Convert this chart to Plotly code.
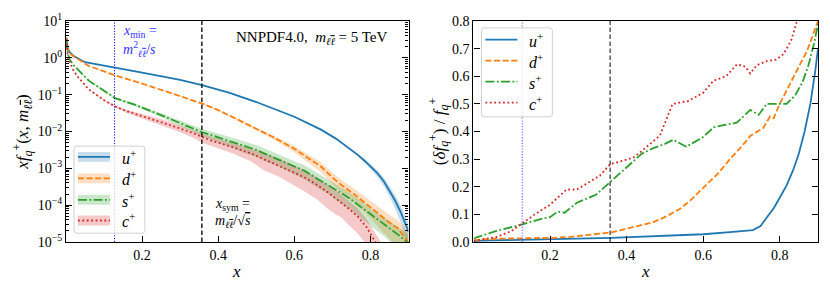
import numpy as np
import plotly.graph_objects as go

# ---------------- data ----------------
X_MIN = 0.1276   # m^2/s
X_SYM = 0.357    # m/sqrt(s)

u_x = [0.001, 0.005, 0.01, 0.02, 0.05, 0.1, 0.2, 0.3, 0.36, 0.43, 0.5, 0.6, 0.67, 0.71, 0.73, 0.75,
       0.765, 0.785, 0.8, 0.818, 0.835, 0.85, 0.865, 0.88, 0.893, 0.9]
u_logf = [0.55, 0.25, 0.15, 0.05, -0.12, -0.21, -0.40, -0.60, -0.75, -0.95, -1.2, -1.6, -1.95, -2.2, -2.35, -2.5,
          -2.62, -2.8, -2.95, -3.13, -3.35, -3.6, -3.88, -4.2, -4.55, -4.72]
u_rel = [0.003, 0.004, 0.004, 0.005, 0.006, 0.007, 0.011, 0.013, 0.015, 0.018, 0.022, 0.028, 0.036, 0.04, 0.043, 0.058,
         0.085, 0.124, 0.16, 0.205, 0.26, 0.32, 0.40, 0.50, 0.62, 0.70]

d_x = [0.001, 0.005, 0.01, 0.02, 0.06, 0.13, 0.2, 0.25, 0.3, 0.36, 0.4, 0.44, 0.47, 0.5, 0.54, 0.57, 0.6, 0.64,
       0.67, 0.7, 0.723, 0.757, 0.775, 0.784, 0.8, 0.827, 0.853, 0.871, 0.9]
d_logf = [0.55, 0.22, 0.12, 0.04, -0.22, -0.48, -0.70, -0.88, -1.04, -1.25, -1.42, -1.62, -1.77, -1.92, -2.13, -2.3,
          -2.47, -2.75, -2.95, -3.25, -3.45, -3.7, -3.85, -3.92, -4.05, -4.3, -4.5, -4.62, -5.0]
d_rel = [0.006, 0.007, 0.008, 0.009, 0.012, 0.013, 0.015, 0.018, 0.025, 0.035, 0.048, 0.062, 0.072, 0.09, 0.12,
         0.155, 0.195, 0.25, 0.30, 0.345, 0.384, 0.413, 0.455, 0.448, 0.50, 0.575, 0.643, 0.69, 0.80]

s_x = [0.001, 0.005, 0.01, 0.02, 0.06, 0.13, 0.18, 0.2, 0.22, 0.238, 0.27, 0.32, 0.358, 0.40, 0.44, 0.47, 0.50,
       0.522, 0.556, 0.6, 0.627, 0.66, 0.688, 0.723, 0.745, 0.766, 0.79, 0.818, 0.84, 0.86, 0.875, 0.89, 0.9]
s_logf = [0.5, 0.1, -0.05, -0.2, -0.62, -1.1, -1.27, -1.35, -1.43, -1.5, -1.64, -1.86, -2.02, -2.16, -2.3, -2.4,
          -2.5, -2.6, -2.75, -2.95, -3.07, -3.28, -3.45, -3.67, -3.82, -3.98, -4.18, -4.4, -4.55, -4.7, -4.82,
          -4.95, -5.05]
s_rel = [0.012, 0.015, 0.018, 0.022, 0.04, 0.065, 0.085, 0.09, 0.11, 0.106, 0.142, 0.171, 0.218, 0.271, 0.32, 0.34,
         0.355, 0.37, 0.345, 0.38, 0.415, 0.425, 0.432, 0.478, 0.46, 0.50, 0.50, 0.50, 0.53, 0.58, 0.64, 0.72, 0.79]

c_x = [0.001, 0.005, 0.01, 0.02, 0.03, 0.06, 0.1, 0.129, 0.16, 0.2, 0.243, 0.27, 0.295, 0.33, 0.358, 0.38, 0.417,
       0.44, 0.487, 0.52, 0.56, 0.6, 0.627, 0.66, 0.688, 0.71, 0.723, 0.74, 0.766, 0.79, 0.81, 0.83, 0.845, 0.87, 0.9]
c_logf = [0.5, 0.0, -0.12, -0.35, -0.5, -0.86, -1.15, -1.32, -1.45, -1.58, -1.71, -1.8, -1.9, -2.03, -2.16, -2.24,
          -2.36, -2.43, -2.6, -2.75, -2.92, -3.12, -3.25, -3.45, -3.65, -3.82, -3.92, -4.07, -4.3, -4.6, -4.95,
          -5.3, -5.6, -6.0, -6.5]
c_rel = [0.004, 0.005, 0.006, 0.008, 0.01, 0.018, 0.04, 0.068, 0.1, 0.135, 0.19, 0.19, 0.21, 0.24, 0.283, 0.29,
         0.305, 0.33, 0.385, 0.5, 0.51, 0.54, 0.584, 0.60, 0.643, 0.635, 0.61, 0.64, 0.655, 0.66, 0.68, 0.73,
         0.80, 0.88, 0.93]

log_tick_exps = [1, 0, -1, -2, -3, -4, -5]
x_ticks = [0.2, 0.4, 0.6, 0.8]

flavours = ["u", "d", "s", "c"]
colors = ["#1f77b4", "#ff7f0e", "#2ca02c", "#d62728"]
fills = ["rgba(31,119,180,0.25)", "rgba(255,127,14,0.25)", "rgba(44,160,44,0.25)", "rgba(214,39,40,0.25)"]
dashes = ["solid", "6px,2.6px", "9px,2.4px,1.8px,2.4px", "1.8px,2.6px"]
series = {"u": (u_x, u_logf, u_rel), "d": (d_x, d_logf, d_rel),
          "s": (s_x, s_logf, s_rel), "c": (c_x, c_logf, c_rel)}

# ---------------- figure ----------------
W, H = 830, 291
ML, MR, MT, MB = 66, 11, 16, 49
PW, PH = W - ML - MR, H - MT - MB


def px(xp):
    return (xp - ML) / PW


def py(yp):
    return (H - MB - yp) / PH


fig = go.Figure()
LW = 1.8
for f, col, fc, dsh in zip(flavours, colors, fills, dashes):
    xs, lf, rel = series[f]
    xs = np.array(xs)
    fv = 10 ** np.array(lf)
    rel = np.array(rel)
    lo = fv * np.clip(1 - rel, 1e-3, None)
    hi = fv * (1 + rel)
    fig.add_trace(go.Scatter(x=xs, y=hi, mode="lines", line=dict(width=0), showlegend=False,
                             hoverinfo="skip", xaxis="x", yaxis="y"))
    fig.add_trace(go.Scatter(x=xs, y=lo, mode="lines", line=dict(width=0), fill="tonexty",
                             fillcolor=fc, showlegend=False, hoverinfo="skip", xaxis="x", yaxis="y"))
for f, col, fc, dsh in zip(flavours, colors, fills, dashes):
    xs, lf, rel = series[f]
    fig.add_trace(go.Scatter(x=xs, y=10 ** np.array(lf), mode="lines",
                             line=dict(color=col, width=LW, dash=dsh), showlegend=False,
                             xaxis="x", yaxis="y"))
    fig.add_trace(go.Scatter(x=xs, y=rel, mode="lines",
                             line=dict(color=col, width=LW, dash=dsh), showlegend=False,
                             xaxis="x2", yaxis="y2"))

FONT = "Liberation Serif"
dom1 = [0, (409 - ML) / PW]
dom2 = [(474 - ML) / PW, 1]
axcommon = dict(showline=True, linecolor="black", linewidth=1.2, ticks="inside", tickcolor="black",
                tickwidth=1.1, ticklen=6, showgrid=False, zeroline=False,
                tickfont=dict(family=FONT, size=14, color="black"))
MLL = "<i>m</i><sub><i>ℓ<span style='text-decoration:overline'>ℓ</span></i></sub>"
fig.update_layout(
    width=W, height=H, margin=dict(l=ML, r=MR, t=MT, b=MB),
    plot_bgcolor="white", paper_bgcolor="white", showlegend=False,
    font=dict(family=FONT, size=13, color="black"),
    xaxis=dict(domain=dom1, range=[0, 0.9], tickvals=x_ticks, ticktext=[f"{v:.1f}" for v in x_ticks],
               mirror=True, anchor="y", **axcommon),
    yaxis=dict(domain=[0, 1], type="log", range=[-5, 1],
               tickvals=[10.0 ** e for e in log_tick_exps],
               ticktext=["10<sup>" + str(e).replace("-", "−") + "</sup>" for e in log_tick_exps],
               mirror="ticks", anchor="x",
               title=dict(text="<i>xf</i><sub><i>q</i></sub><sup>+</sup>(<i>x</i>, " + MLL + ")",
                          font=dict(family=FONT, size=17), standoff=4),
               minor=dict(ticks="inside", ticklen=3, tickwidth=0.8, tickcolor="black", dtick="D1"),
               **axcommon),
    xaxis2=dict(domain=dom2, range=[0, 0.9], tickvals=x_ticks, ticktext=[f"{v:.1f}" for v in x_ticks],
                mirror=True, anchor="y2", **axcommon),
    yaxis2=dict(domain=[0, 1], range=[0, 0.8], dtick=0.1, tickformat=".1f", mirror="ticks", anchor="x2",
                title=dict(text="(<i>δf</i><sub><i>q</i></sub><sup>+</sup>) / <i>f</i><sub><i>q</i></sub><sup>+</sup>",
                           font=dict(family=FONT, size=17), standoff=2),
                **axcommon),
)

# vertical reference lines
for xr, yr in (("x", "y domain"), ("x2", "y2 domain")):
    blue = "rgba(0,0,255,1)" if xr == "x" else "rgba(60,60,255,0.6)"
    bw = 1.0 if xr == "x" else 1.6
    fig.add_shape(type="line", xref=xr, yref=yr, x0=X_MIN, x1=X_MIN, y0=0, y1=1,
                  line=dict(color=blue, width=bw, dash="1.2px,1.6px"))
    fig.add_shape(type="line", xref=xr, yref=yr, x0=X_SYM, x1=X_SYM, y0=0, y1=1,
                  line=dict(color="black" if xr == "x" else "rgba(0,0,0,0.75)", width=1.3, dash="4.5px,2.5px"))

ann = []


def text(xp_, yp_, t, size=13, color="black", xanchor="center"):
    ann.append(dict(x=px(xp_), y=py(yp_), xref="paper", yref="paper", text=t, showarrow=False,
                    xanchor=xanchor, yanchor="middle", font=dict(family=FONT, size=size, color=color)))


text(389, 33, "NNPDF4.0,  " + MLL + " = 5 TeV", 15, xanchor="right")
text(140, 27, "<i>x</i><sub>min</sub> =", 14, "#3333ff")
text(140, 45, "<i>m</i><sup>2</sup><sub><i>ℓ<span style='text-decoration:overline'>ℓ</span></i></sub>/<i>s</i>",
     14, "#3333ff")
text(233, 204, "<i>x</i><sub>sym</sub> =", 14)
text(233, 221, MLL + "/√<span style='text-decoration:overline'><i>s</i></span>", 14)

# axis titles (x)
text(237, 272, "<i>x</i>", 17)
text(646, 272, "<i>x</i>", 17)

# legends (drawn manually, matplotlib style)
shapes = []


def rbox(x0, y0, x1, y1, r=3):
    X0, X1 = px(x0), px(x1)
    Y0, Y1 = py(y0), py(y1)
    rx, ry = r / PW, r / PH
    path = (f"M{X0+rx},{Y0} L{X1-rx},{Y0} Q{X1},{Y0} {X1},{Y0-ry} L{X1},{Y1+ry} Q{X1},{Y1} {X1-rx},{Y1} "
            f"L{X0+rx},{Y1} Q{X0},{Y1} {X0},{Y1+ry} L{X0},{Y0-ry} Q{X0},{Y0} {X0+rx},{Y0} Z")
    shapes.append(dict(type="path", xref="paper", yref="paper", path=path,
                       fillcolor="rgba(255,255,255,0.8)", line=dict(color="#d0d0d0", width=1)))


def legend(bx0, by0, bx1, by1, ys, lx0, lx1, tx, patch):
    rbox(bx0, by0, bx1, by1)
    for f, col, fc, dsh, yy in zip(flavours, colors, fills, dashes, ys):
        if patch:
            shapes.append(dict(type="rect", xref="paper", yref="paper", x0=px(lx0), x1=px(lx1),
                               y0=py(yy - 5), y1=py(yy + 5), fillcolor=fc, line=dict(width=0)))
        shapes.append(dict(type="line", xref="paper", yref="paper", x0=px(lx0), x1=px(lx1),
                           y0=py(yy), y1=py(yy), line=dict(color=col, width=LW, dash=dsh)))
        text(tx, yy, "<i>" + f + "</i><sup>+</sup>", 16, xanchor="left")


legend(74, 144, 145, 233, [155, 177, 199, 220], 78, 110, 120, True)
legend(482, 23, 553, 114, [35, 56.5, 78, 99.5], 486, 518, 528, False)

fig.update_layout(annotations=ann, shapes=fig.layout.shapes + tuple(shapes))
fig.write_html("out.html", config={"displayModeBar": False},
               post_script="document.body.style.margin='0';document.body.style.padding='0';")
